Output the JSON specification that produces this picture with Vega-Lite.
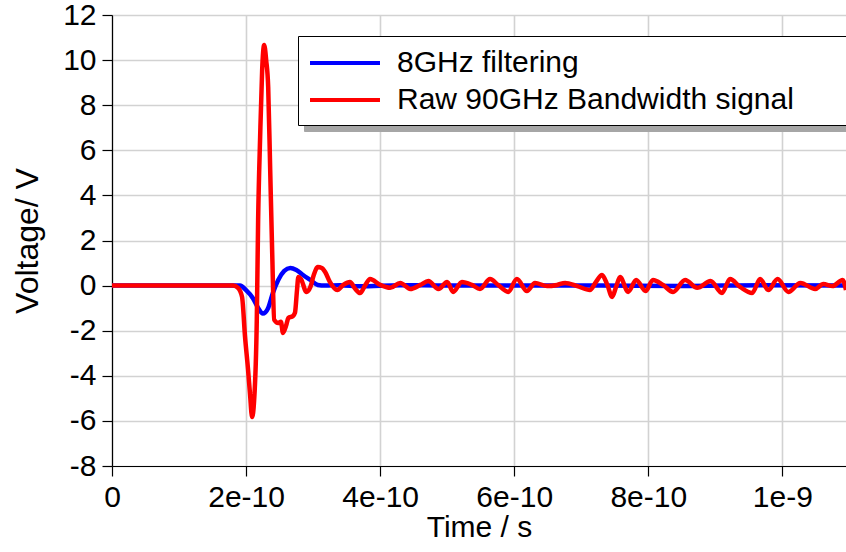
{
  "$schema": "https://vega.github.io/schema/vega-lite/v6.json",
  "autosize": {"type": "none"},
  "padding": {"left": 112, "top": 15, "right": 0, "bottom": 86},
  "width": 734,
  "height": 451,
  "background": "white",
  "config": {
    "view": {"stroke": null},
    "font": "Liberation Sans",
    "axis": {
      "labelFont": "Liberation Sans",
      "titleFont": "Liberation Sans",
      "labelColor": "black",
      "titleColor": "black",
      "titleFontWeight": "normal",
      "domainColor": "black",
      "domainWidth": 1.2,
      "tickColor": "black",
      "tickWidth": 1.2,
      "tickSize": 10,
      "gridColor": "#d2d2d2",
      "gridWidth": 1.6,
      "labelFontSize": 30,
      "labelPadding": 6,
      "labelOverlap": false,
      "labelFlush": false
    },
    "legend": {
      "labelFont": "Liberation Sans"
    }
  },
  "data": {
    "values": [
      {"t": 0, "v": 0, "s": "8GHz filtering"},
      {"t": 1.84e-10, "v": 0, "s": "8GHz filtering"},
      {"t": 1.91e-10, "v": 0, "s": "8GHz filtering"},
      {"t": 2.0e-10, "v": -0.2, "s": "8GHz filtering"},
      {"t": 2.10e-10, "v": -0.55, "s": "8GHz filtering"},
      {"t": 2.18e-10, "v": -0.99, "s": "8GHz filtering"},
      {"t": 2.25e-10, "v": -1.24, "s": "8GHz filtering"},
      {"t": 2.33e-10, "v": -0.99, "s": "8GHz filtering"},
      {"t": 2.40e-10, "v": -0.33, "s": "8GHz filtering"},
      {"t": 2.48e-10, "v": 0.25, "s": "8GHz filtering"},
      {"t": 2.57e-10, "v": 0.65, "s": "8GHz filtering"},
      {"t": 2.66e-10, "v": 0.78, "s": "8GHz filtering"},
      {"t": 2.75e-10, "v": 0.69, "s": "8GHz filtering"},
      {"t": 2.85e-10, "v": 0.47, "s": "8GHz filtering"},
      {"t": 2.96e-10, "v": 0.25, "s": "8GHz filtering"},
      {"t": 3.07e-10, "v": 0.03, "s": "8GHz filtering"},
      {"t": 3.18e-10, "v": 0, "s": "8GHz filtering"},
      {"t": 3.40e-10, "v": 0.02, "s": "8GHz filtering"},
      {"t": 3.70e-10, "v": -0.03, "s": "8GHz filtering"},
      {"t": 4.3e-10, "v": 0.02, "s": "8GHz filtering"},
      {"t": 5.0e-10, "v": 0, "s": "8GHz filtering"},
      {"t": 6.0e-10, "v": 0.01, "s": "8GHz filtering"},
      {"t": 7.3e-10, "v": 0, "s": "8GHz filtering"},
      {"t": 8.5e-10, "v": -0.02, "s": "8GHz filtering"},
      {"t": 9.7e-10, "v": 0.02, "s": "8GHz filtering"},
      {"t": 1.095e-9, "v": 0, "s": "8GHz filtering"},

      {"t": 0, "v": 0, "s": "Raw 90GHz Bandwidth signal"},
      {"t": 1.81e-10, "v": 0, "s": "Raw 90GHz Bandwidth signal"},
      {"t": 1.88e-10, "v": -0.1, "s": "Raw 90GHz Bandwidth signal"},
      {"t": 1.94e-10, "v": -0.5, "s": "Raw 90GHz Bandwidth signal"},
      {"t": 1.985e-10, "v": -2.28, "s": "Raw 90GHz Bandwidth signal"},
      {"t": 2.03e-10, "v": -3.74, "s": "Raw 90GHz Bandwidth signal"},
      {"t": 2.06e-10, "v": -4.85, "s": "Raw 90GHz Bandwidth signal"},
      {"t": 2.09e-10, "v": -5.83, "s": "Raw 90GHz Bandwidth signal"},
      {"t": 2.12e-10, "v": -5.1, "s": "Raw 90GHz Bandwidth signal"},
      {"t": 2.16e-10, "v": -1.52, "s": "Raw 90GHz Bandwidth signal"},
      {"t": 2.18e-10, "v": 2.91, "s": "Raw 90GHz Bandwidth signal"},
      {"t": 2.21e-10, "v": 6.59, "s": "Raw 90GHz Bandwidth signal"},
      {"t": 2.24e-10, "v": 9.56, "s": "Raw 90GHz Bandwidth signal"},
      {"t": 2.27e-10, "v": 10.67, "s": "Raw 90GHz Bandwidth signal"},
      {"t": 2.30e-10, "v": 10.0, "s": "Raw 90GHz Bandwidth signal"},
      {"t": 2.33e-10, "v": 8.81, "s": "Raw 90GHz Bandwidth signal"},
      {"t": 2.36e-10, "v": 5.13, "s": "Raw 90GHz Bandwidth signal"},
      {"t": 2.39e-10, "v": 1.45, "s": "Raw 90GHz Bandwidth signal"},
      {"t": 2.42e-10, "v": -1.52, "s": "Raw 90GHz Bandwidth signal"},
      {"t": 2.48e-10, "v": -1.66, "s": "Raw 90GHz Bandwidth signal"},
      {"t": 2.52e-10, "v": -1.6, "s": "Raw 90GHz Bandwidth signal"},
      {"t": 2.55e-10, "v": -2.1, "s": "Raw 90GHz Bandwidth signal"},
      {"t": 2.60e-10, "v": -1.75, "s": "Raw 90GHz Bandwidth signal"},
      {"t": 2.63e-10, "v": -1.44, "s": "Raw 90GHz Bandwidth signal"},
      {"t": 2.70e-10, "v": -1.35, "s": "Raw 90GHz Bandwidth signal"},
      {"t": 2.73e-10, "v": -1.2, "s": "Raw 90GHz Bandwidth signal"},
      {"t": 2.76e-10, "v": -0.2, "s": "Raw 90GHz Bandwidth signal"},
      {"t": 2.78e-10, "v": 0.38, "s": "Raw 90GHz Bandwidth signal"},
      {"t": 2.82e-10, "v": 0.29, "s": "Raw 90GHz Bandwidth signal"},
      {"t": 2.90e-10, "v": -0.28, "s": "Raw 90GHz Bandwidth signal"},
      {"t": 2.96e-10, "v": -0.06, "s": "Raw 90GHz Bandwidth signal"},
      {"t": 3.01e-10, "v": 0.47, "s": "Raw 90GHz Bandwidth signal"},
      {"t": 3.07e-10, "v": 0.82, "s": "Raw 90GHz Bandwidth signal"},
      {"t": 3.13e-10, "v": 0.78, "s": "Raw 90GHz Bandwidth signal"},
      {"t": 3.18e-10, "v": 0.6, "s": "Raw 90GHz Bandwidth signal"},
      {"t": 3.25e-10, "v": 0.16, "s": "Raw 90GHz Bandwidth signal"},
      {"t": 3.36e-10, "v": -0.2, "s": "Raw 90GHz Bandwidth signal"},
      {"t": 3.45e-10, "v": 0.03, "s": "Raw 90GHz Bandwidth signal"},
      {"t": 3.55e-10, "v": 0.16, "s": "Raw 90GHz Bandwidth signal"},
      {"t": 3.63e-10, "v": -0.15, "s": "Raw 90GHz Bandwidth signal"},
      {"t": 3.70e-10, "v": -0.33, "s": "Raw 90GHz Bandwidth signal"},
      {"t": 3.78e-10, "v": 0.03, "s": "Raw 90GHz Bandwidth signal"},
      {"t": 3.85e-10, "v": 0.29, "s": "Raw 90GHz Bandwidth signal"},
      {"t": 4.0e-10, "v": 0.03, "s": "Raw 90GHz Bandwidth signal"},
      {"t": 4.15e-10, "v": -0.1, "s": "Raw 90GHz Bandwidth signal"},
      {"t": 4.30e-10, "v": 0.12, "s": "Raw 90GHz Bandwidth signal"},
      {"t": 4.45e-10, "v": -0.15, "s": "Raw 90GHz Bandwidth signal"},
      {"t": 4.60e-10, "v": 0.03, "s": "Raw 90GHz Bandwidth signal"},
      {"t": 4.72e-10, "v": 0.2, "s": "Raw 90GHz Bandwidth signal"},
      {"t": 4.87e-10, "v": -0.15, "s": "Raw 90GHz Bandwidth signal"},
      {"t": 5.0e-10, "v": 0.16, "s": "Raw 90GHz Bandwidth signal"},
      {"t": 5.09e-10, "v": -0.28, "s": "Raw 90GHz Bandwidth signal"},
      {"t": 5.22e-10, "v": 0.16, "s": "Raw 90GHz Bandwidth signal"},
      {"t": 5.37e-10, "v": 0.03, "s": "Raw 90GHz Bandwidth signal"},
      {"t": 5.49e-10, "v": -0.15, "s": "Raw 90GHz Bandwidth signal"},
      {"t": 5.64e-10, "v": 0.29, "s": "Raw 90GHz Bandwidth signal"},
      {"t": 5.76e-10, "v": 0.03, "s": "Raw 90GHz Bandwidth signal"},
      {"t": 5.91e-10, "v": -0.28, "s": "Raw 90GHz Bandwidth signal"},
      {"t": 6.04e-10, "v": 0.29, "s": "Raw 90GHz Bandwidth signal"},
      {"t": 6.19e-10, "v": -0.24, "s": "Raw 90GHz Bandwidth signal"},
      {"t": 6.31e-10, "v": 0.12, "s": "Raw 90GHz Bandwidth signal"},
      {"t": 6.49e-10, "v": -0.02, "s": "Raw 90GHz Bandwidth signal"},
      {"t": 6.64e-10, "v": 0.03, "s": "Raw 90GHz Bandwidth signal"},
      {"t": 6.76e-10, "v": 0.12, "s": "Raw 90GHz Bandwidth signal"},
      {"t": 6.94e-10, "v": -0.02, "s": "Raw 90GHz Bandwidth signal"},
      {"t": 7.13e-10, "v": -0.2, "s": "Raw 90GHz Bandwidth signal"},
      {"t": 7.22e-10, "v": 0.16, "s": "Raw 90GHz Bandwidth signal"},
      {"t": 7.31e-10, "v": 0.47, "s": "Raw 90GHz Bandwidth signal"},
      {"t": 7.39e-10, "v": 0.03, "s": "Raw 90GHz Bandwidth signal"},
      {"t": 7.46e-10, "v": -0.5, "s": "Raw 90GHz Bandwidth signal"},
      {"t": 7.52e-10, "v": -0.06, "s": "Raw 90GHz Bandwidth signal"},
      {"t": 7.58e-10, "v": 0.38, "s": "Raw 90GHz Bandwidth signal"},
      {"t": 7.70e-10, "v": -0.28, "s": "Raw 90GHz Bandwidth signal"},
      {"t": 7.82e-10, "v": 0.25, "s": "Raw 90GHz Bandwidth signal"},
      {"t": 7.96e-10, "v": -0.24, "s": "Raw 90GHz Bandwidth signal"},
      {"t": 8.07e-10, "v": 0.25, "s": "Raw 90GHz Bandwidth signal"},
      {"t": 8.22e-10, "v": 0.03, "s": "Raw 90GHz Bandwidth signal"},
      {"t": 8.37e-10, "v": -0.28, "s": "Raw 90GHz Bandwidth signal"},
      {"t": 8.55e-10, "v": 0.25, "s": "Raw 90GHz Bandwidth signal"},
      {"t": 8.73e-10, "v": -0.1, "s": "Raw 90GHz Bandwidth signal"},
      {"t": 8.93e-10, "v": 0.2, "s": "Raw 90GHz Bandwidth signal"},
      {"t": 9.10e-10, "v": -0.33, "s": "Raw 90GHz Bandwidth signal"},
      {"t": 9.22e-10, "v": 0.29, "s": "Raw 90GHz Bandwidth signal"},
      {"t": 9.37e-10, "v": -0.06, "s": "Raw 90GHz Bandwidth signal"},
      {"t": 9.55e-10, "v": -0.33, "s": "Raw 90GHz Bandwidth signal"},
      {"t": 9.67e-10, "v": 0.29, "s": "Raw 90GHz Bandwidth signal"},
      {"t": 9.79e-10, "v": -0.2, "s": "Raw 90GHz Bandwidth signal"},
      {"t": 9.93e-10, "v": 0.29, "s": "Raw 90GHz Bandwidth signal"},
      {"t": 1.009e-9, "v": -0.28, "s": "Raw 90GHz Bandwidth signal"},
      {"t": 1.027e-9, "v": 0.12, "s": "Raw 90GHz Bandwidth signal"},
      {"t": 1.049e-9, "v": -0.15, "s": "Raw 90GHz Bandwidth signal"},
      {"t": 1.061e-9, "v": 0.07, "s": "Raw 90GHz Bandwidth signal"},
      {"t": 1.075e-9, "v": -0.02, "s": "Raw 90GHz Bandwidth signal"},
      {"t": 1.090e-9, "v": 0.25, "s": "Raw 90GHz Bandwidth signal"},
      {"t": 1.095e-9, "v": -0.2, "s": "Raw 90GHz Bandwidth signal"}
    ]
  },
  "encoding": {
    "x": {
      "field": "t",
      "type": "quantitative",
      "scale": {"domain": [0, 1.095e-9], "nice": false, "zero": false},
      "axis": {
        "title": "Time / s",
        "titleFontSize": 30,
        "titlePadding": 0,
        "values": [0, 2e-10, 4e-10, 6e-10, 8e-10, 1e-9],
        "labelExpr": "datum.value == 0 ? '0' : replace(format(datum.value, '~e'), '\u2212', '-')"
      }
    },
    "y": {
      "field": "v",
      "type": "quantitative",
      "scale": {"domain": [-8, 12], "nice": false},
      "axis": {
        "title": "Voltage/ V",
        "titleFontSize": 32,
        "titlePadding": 18,
        "values": [-8, -6, -4, -2, 0, 2, 4, 6, 8, 10, 12],
        "labelExpr": "'' + datum.value"
      }
    }
  },
  "layer": [
    {
      "mark": {"type": "line", "strokeWidth": 4.5, "interpolate": "monotone", "clip": true},
      "encoding": {
        "color": {
          "field": "s",
          "type": "nominal",
          "scale": {"domain": ["8GHz filtering", "Raw 90GHz Bandwidth signal"], "range": ["#0000ff", "#ff0000"]},
          "legend": {
            "title": null,
            "orient": "none",
            "legendX": 186,
            "legendY": 21,
            "zindex": 2,
            "symbolType": "M-2.333,0H2.333",
            "symbolSize": 900,
            "symbolOffset": 20,
            "symbolStrokeWidth": 4,
            "symbolFillColor": "transparent",
            "labelFontSize": 30,
            "labelColor": "black",
            "labelLimit": 2000,
            "labelOffset": 35,
            "rowPadding": 5,
            "padding": 10,
            "strokeColor": "black",
            "fillColor": "white",
            "labelExpr": "datum.label + '\u00a0\u00a0\u00a0\u00a0\u00a0\u00a0\u200b'"
          }
        }
      }
    },
    {
      "mark": {"type": "point", "opacity": 0, "clip": true},
      "encoding": {
        "shape": {
          "field": "s",
          "type": "nominal",
          "legend": {
            "title": null,
            "orient": "none",
            "legendX": 192,
            "legendY": 27,
            "zindex": 1,
            "symbolType": "M-2.333,0H2.333",
            "symbolSize": 900,
            "symbolOffset": 20,
            "symbolStrokeWidth": 4,
            "symbolOpacity": 0,
            "labelOpacity": 0,
            "labelFontSize": 30,
            "labelLimit": 2000,
            "labelOffset": 700,
            "rowPadding": 5,
            "padding": 10,
            "strokeColor": "#a6a6a6",
            "fillColor": "#a6a6a6",
            "labelExpr": "''"
          }
        }
      }
    }
  ]
}
